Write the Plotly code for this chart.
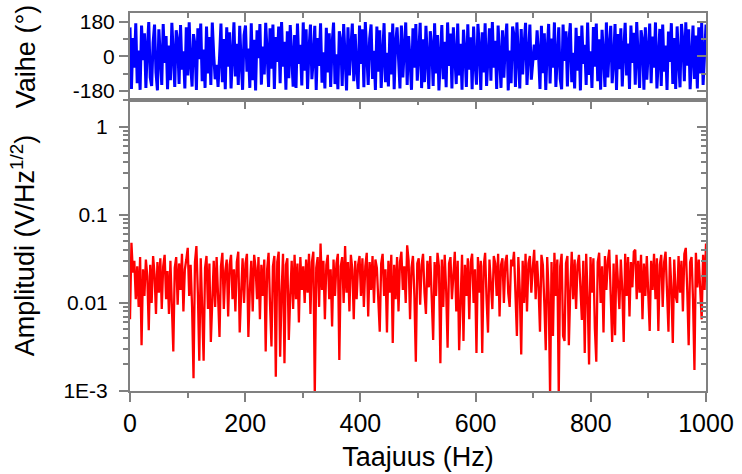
import numpy as np
import plotly.graph_objects as go

# phase (degrees), 400 bins over 0..1000 Hz
phase_deg = [
    150, -170, 95, -60, 172, -140, 30, -175, 160, -20, 120, -165, 45, 178, -110, -155, 70, 165, -85, -178,
    140, 10, -150, 168, -35, 105, -172, 55, -125, 174, -5, -160, 135, 80, -145, 162, -70, 25, -168, 150,
    -100, 176, -40, -158, 115, 60, -176, 145, -15, 170, -130, 35, -165, 155, -90, 100, -150, 175, 5, -120,
    -45, -160, -10, 170, -135, 90, -172, 150, -55, 125, -168, 20, 176, -105, 65, -150, 158, -30, -175, 110,
    160, -80, 40, -165, 172, -125, 85, -178, 135, -10, 168, -148, 50, -95, 174, 15, -160, 145, -65, 165,
    -170, 100, -30, 155, -140, 178, -55, 75, -175, 130, -115, 162, 25, -158, 110, -165, 170, -40, 60, -152,
    176, -75, 140, -170, 35, 165, -120, -10, 158, -176, 95, -50, 172, -138, 20, -168, 148, -85, 120, -160,
    62, 175, -145, 10, -172, 130, 80, -155, 168, -25, -178, 150, -100, 45, 170, -130, 115, -65, -170, 160,
    -40, 140, -162, 178, -5, -150, 92, 165, -118, 28, -176, 155, -80, 135, -165, 58, 172, -135, 18, -158,
    125, -95, 170, -172, 70, 150, -45, -168, 160, -110, 38, 176, -150, 105, -20, -175, 145, -60, 168, -128,
    12, 174, -166, 88, -135, 158, -15, -170, 130, 52, -155, 172, -90, 110, -178, 30, 162, -120, 75, -162,
    176, -50, 118, -168, 150, 0, -145, 170, -100, 64, -175, 138, 22, -160, 166, -70, 98, -172, 155, -30,
    -148, 168, 42, -176, 125, -85, 172, -155, 15, 145, -128, 178, -60, 80, -170, 160, -10, -165, 135, -112,
    72, 170, -178, 30, -140, 155, 110, -160, 176, -35, -168, 142, -95, 58, 174, -150, 8, 165, -122, -45,
    60, -20, 135, 10, -170, 158, -88, 120, -176, 35, 168, -142, 92, -60, 176, -160, 48, 150, -118, -172,
    165, -25, 130, -158, 74, 172, -135, 18, -168, 148, -75, 105, -178, 160, -40, 60, -150, 175, -98, 25,
    -165, 152, -55, 170, -130, 88, -174, 138, 5, -160, 176, -110, 46, 158, -140, -20, 168, -176, 115, -68,
    145, -158, 30, 174, -100, 66, -170, 160, -35, 122, -148, 178, -5, -165, 135, 82, -175, 150, -122, 40,
    170, -140, 102, -60, 176, -168, 20, 142, -155, 165, -80, 56, -176, 128, -30, 172, -145, 95, -170, 155,
    -15, -162, 168, 76, -130, 176, -50, 140, -172, 12, 160, -118, 108, -168, 150, -90, 174, -150, 38, 165,
]

amp_milli = [
    6.5, 48, 22, 30, 11, 26, 9, 33, 3.3, 24, 12, 31, 20, 4.9, 27, 10, 34, 21, 7.5, 29,
    13, 32, 8.5, 26, 35, 11, 23, 7.5, 30, 10, 2.8, 25, 33, 9.5, 28, 14, 36, 8, 24, 31,
    42, 12, 27, 9, 1.4, 29, 44, 13, 2.2, 32, 10, 2.2, 25, 34, 8.5, 28, 3.6, 11, 30, 9,
    33, 12, 4.1, 26, 37, 8.5, 23, 31, 7, 27, 35, 11, 24, 8, 29, 38, 4.6, 13, 32, 10,
    28, 36, 4.1, 14, 30, 8, 35, 25, 11, 33, 6.5, 27, 12, 31, 2.8, 24, 37, 9.5, 3.2, 26,
    34, 1.45, 29, 38, 2.45, 13, 36, 2.06, 27, 32, 3.8, 12, 30, 8.5, 35, 11, 28, 6, 33, 14,
    26, 10, 31, 13, 36, 7.5, 29, 38, 0.9, 25, 33, 9, 47, 14, 30, 6.5, 27, 35, 11, 24,
    5.4, 31, 12, 28, 36, 2.25, 26, 33, 10, 44, 13, 29, 8, 35, 24, 6.5, 30, 11, 27, 34,
    12, 32, 9, 26, 37, 7, 29, 14, 34, 10, 31, 25, 8.5, 4.7, 28, 36, 12, 24, 4.6, 30,
    13, 35, 3.5, 27, 11, 33, 8, 29, 38, 14, 26, 10, 45, 30, 6.5, 25, 34, 12, 2.15, 28,
    32, 9.5, 27, 36, 13, 7.5, 30, 15, 34, 11, 3.8, 29, 12, 37, 26, 2.06, 31, 9, 35, 14,
    3.1, 28, 33, 11, 25, 38, 8, 30, 2.9, 14, 35, 3.7, 27, 12, 32, 6.5, 29, 36, 10, 24,
    2.7, 33, 13, 30, 2.7, 26, 37, 11, 4.6, 31, 15, 8.5, 34, 28, 12, 36, 7, 27, 32, 10,
    29, 35, 13, 9, 31, 26, 38, 12, 4.2, 33, 14, 2.6, 30, 10, 36, 8, 28, 34, 13, 25,
    40, 11, 30, 15, 4.7, 35, 27, 10, 2.9, 33, 13, 0.9, 29, 4.2, 37, 12, 31, 0.9, 26, 36,
    4.2, 3.7, 28, 34, 3.3, 14, 38, 11, 31, 8.5, 27, 35, 13, 6.4, 30, 2.7, 36, 12, 2.0, 33,
    13, 32, 5.2, 2.15, 29, 37, 10, 26, 4.6, 34, 14, 30, 40, 11, 3.6, 28, 4.3, 35, 15, 8.5,
    31, 14, 3.6, 36, 12, 33, 7, 29, 15, 38, 40, 11, 30, 13, 35, 6.5, 28, 12, 34, 10,
    4.8, 30, 14, 36, 11, 32, 4.8, 27, 35, 9, 29, 38, 13, 4.7, 33, 15, 3.5, 31, 12, 10,
    34, 13, 30, 8, 36, 42, 14, 3.3, 29, 33, 11, 1.73, 37, 15, 31, 12, 6.5, 35, 14, 47,
]

amp = [v / 1000 for v in amp_milli]
freq = np.linspace(0, 1000, len(amp))

phase_ticks = [-180, 0, 180]
phase_ticktext = ["-180", "0", "180"]
amp_ticks = [0.001, 0.01, 0.1, 1]
amp_ticktext = ["1E-3", "0.01", "0.1", "1"]
amp_minor = [k * 10.0 ** e for e in range(-3, 1) for k in range(2, 10)]

GRAY = "#808080"
FONT = "Liberation Sans, Arial, sans-serif"
split = 291 / 378

fig = go.Figure()
fig.add_trace(go.Scatter(x=freq, y=amp, mode="lines", xaxis="x", yaxis="y",
                         line=dict(color="#ff0000", width=2.3), showlegend=False))
fig.add_trace(go.Scatter(x=freq, y=phase_deg, mode="lines", xaxis="x2", yaxis="y2",
                         line=dict(color="#0000ff", width=3), showlegend=False))
# empty traces so the mirrored (inward tick) axes get drawn
fig.add_trace(go.Scatter(x=[], y=[], xaxis="x3", yaxis="y3", showlegend=False))
fig.add_trace(go.Scatter(x=[], y=[], xaxis="x4", yaxis="y4", showlegend=False))

common = dict(showgrid=False, zeroline=False, showline=True, linecolor=GRAY, linewidth=2,
              tickcolor=GRAY, tickwidth=2, automargin=False)

fig.update_layout(
    width=742, height=474,
    margin=dict(l=130, r=36, t=13, b=83),
    paper_bgcolor="white", plot_bgcolor="white",
    font=dict(family=FONT, color="black"),
    xaxis=dict(domain=[0, 1], anchor="y", range=[0, 1000], dtick=200, tick0=0,
               ticks="outside", ticklen=9, tickfont=dict(size=25),
               minor=dict(dtick=100, ticks="outside", ticklen=5, tickcolor=GRAY, tickwidth=2),
               title=dict(text="Taajuus (Hz)", font=dict(size=27), standoff=11), **common),
    yaxis=dict(domain=[0, split], anchor="x", type="log", range=[-3, np.log10(2.0)],
               tickmode="array", tickvals=amp_ticks, ticktext=amp_ticktext,
               ticks="outside", ticklen=9, tickfont=dict(size=21), ticklabelstandoff=7,
               minor=dict(tickmode="array", tickvals=amp_minor, ticks="outside", ticklen=5,
                          tickcolor=GRAY, tickwidth=2),
               title=dict(text="Amplitudi (V/Hz<sup>1/2</sup>)", font=dict(size=27), standoff=21),
               **common),
    xaxis2=dict(domain=[0, 1], anchor="y2", range=[0, 1000], ticks="",
                showticklabels=False, **common),
    yaxis2=dict(domain=[split, 1], anchor="x2", range=[-228, 225],
                tickmode="array", tickvals=phase_ticks, ticktext=phase_ticktext,
                ticks="outside", ticklen=9, tickfont=dict(size=21),
                minor=dict(dtick=90, tick0=0, ticks="outside", ticklen=5, tickcolor=GRAY, tickwidth=2),
                title=dict(text="Vaihe (°)", font=dict(size=27), standoff=29), **common),
    xaxis3=dict(overlaying="x2", side="top", anchor="y2", range=[0, 1000], dtick=200, tick0=0,
                ticks="inside", ticklen=9, showticklabels=False,
                minor=dict(dtick=100, ticks="inside", ticklen=5, tickcolor=GRAY, tickwidth=2),
                **common),
    yaxis3=dict(overlaying="y2", side="right", anchor="x3", range=[-228, 225], dtick=180, tick0=0,
                ticks="inside", ticklen=9, showticklabels=False,
                minor=dict(dtick=90, ticks="inside", ticklen=5, tickcolor=GRAY, tickwidth=2),
                **common),
    xaxis4=dict(overlaying="x", side="top", anchor="y4", range=[0, 1000], dtick=200, tick0=0,
                ticks="inside", ticklen=9, showticklabels=False,
                minor=dict(dtick=100, ticks="inside", ticklen=5, tickcolor=GRAY, tickwidth=2),
                **common),
    yaxis4=dict(overlaying="y", side="right", anchor="x4", type="log", range=[-3, np.log10(2.0)],
                tickmode="array", tickvals=amp_ticks, ticks="inside", ticklen=9,
                showticklabels=False,
                minor=dict(tickmode="array", tickvals=amp_minor, ticks="inside", ticklen=5,
                           tickcolor=GRAY, tickwidth=2),
                **common),
)

# the page body margin would shift the figure by 8px
fig.write_html("out.html", config={"displayModeBar": False},
               post_script="document.body.style.margin='0';document.body.style.overflow='hidden';")
